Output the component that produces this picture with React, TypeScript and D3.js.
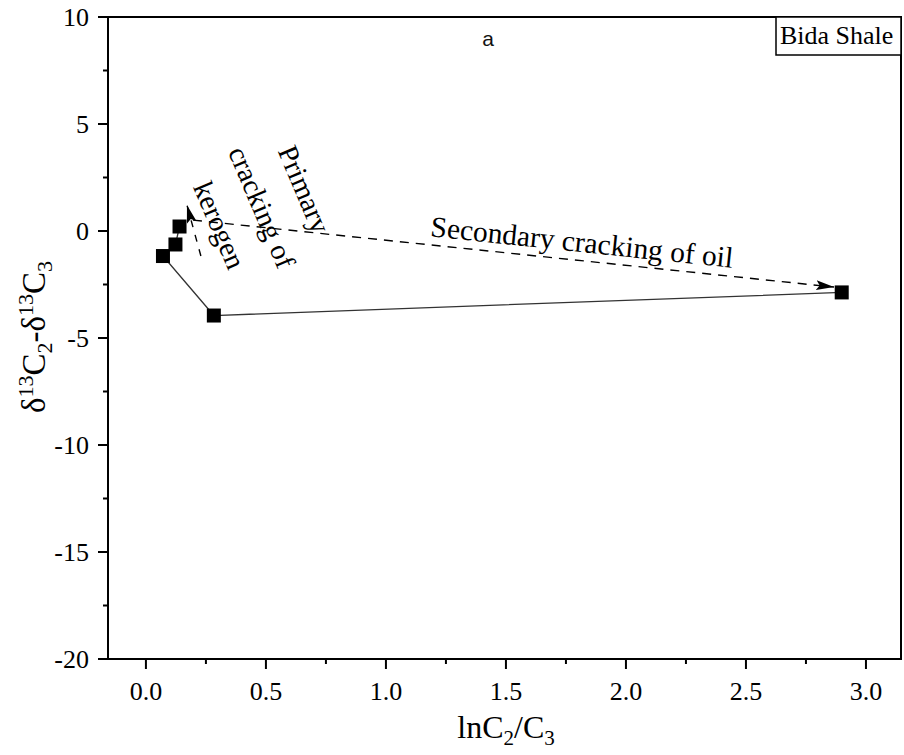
import React from 'react';
import * as d3 from 'd3';

// sample points (lnC2/C3, d13C2-d13C3), in drawing order
const lnC2C3 = [0.14, 0.123, 0.071, 0.283, 2.899];
const dC2C3 = [0.21, -0.63, -1.17, -3.95, -2.87];

// annotation arrows, data units [x0, y0, x1, y1]
const secondaryArrow = [0.196, 0.51, 2.867, -2.62];
const primaryArrow = [0.229, -1.17, 0.171, 1.21];

const xTicks = [0, 0.5, 1.0, 1.5, 2.0, 2.5, 3.0];
const yTicks = [10, 5, 0, -5, -10, -15, -20];

const W = 904, H = 755;
const margin = { top: 17, right: 3, bottom: 96, left: 108 };

const serif = '"Liberation Serif", "Times New Roman", serif';

const App = () => {
  const x = d3.scaleLinear().domain([-0.158, 3.146]).range([margin.left, W - margin.right]);
  const y = d3.scaleLinear().domain([-20, 10]).range([H - margin.bottom, margin.top]);
  const x0 = x.range()[0], x1 = x.range()[1];
  const y0 = y.range()[0], y1 = y.range()[1];

  const line = d3.line<number>()
    .x((d, i) => x(lnC2C3[i]))
    .y((d, i) => y(dC2C3[i]));

  const xMinor = d3.range(0.25, 3.1, 0.5);
  const yMinor = d3.range(-17.5, 10, 5);

  const sa = secondaryArrow, pa = primaryArrow;
  const sAngle = Math.atan2(y(sa[3]) - y(sa[1]), x(sa[2]) - x(sa[0])) * 180 / Math.PI;

  return (
    <svg width={W} height={H} style={{ display: 'block', position: 'absolute', left: 0, top: 0 }}>
      <defs>
        <marker id="head" viewBox="0 0 10 10" refX="10" refY="5" markerWidth="18" markerHeight="10"
          markerUnits="userSpaceOnUse" orient="auto" preserveAspectRatio="none">
          <path d="M0,0 L10,5 L0,10 L2,5 z" fill="#000" />
        </marker>
      </defs>

      {/* frame */}
      <rect x={x0} y={y1} width={x1 - x0} height={y0 - y1} fill="none" stroke="#000" strokeWidth={2} />

      {/* bottom axis */}
      {xTicks.map(t => (
        <g key={'x' + t}>
          <line x1={x(t)} x2={x(t)} y1={y0} y2={y0 + 10} stroke="#000" strokeWidth={2} />
          <text x={x(t)} y={700} textAnchor="middle" fontFamily={serif} fontSize={26}>{t.toFixed(1)}</text>
        </g>
      ))}
      {xMinor.map(t => (
        <line key={'xm' + t} x1={x(t)} x2={x(t)} y1={y0} y2={y0 + 5} stroke="#000" strokeWidth={2} />
      ))}

      {/* left axis */}
      {yTicks.map(t => (
        <g key={'y' + t}>
          <line x1={x0 - 10} x2={x0} y1={y(t)} y2={y(t)} stroke="#000" strokeWidth={2} />
          <text x={89} y={y(t)} dy="0.34em" textAnchor="end" fontFamily={serif} fontSize={26}>{t}</text>
        </g>
      ))}
      {yMinor.map(t => (
        <line key={'ym' + t} x1={x0 - 5} x2={x0} y1={y(t)} y2={y(t)} stroke="#000" strokeWidth={2} />
      ))}

      {/* axis titles */}
      <text x={506} y={738} textAnchor="middle" fontFamily={serif} fontSize={32}>
        lnC<tspan fontSize={21} dy={7}>2</tspan><tspan dy={-7}>/C</tspan><tspan fontSize={21} dy={7}>3</tspan>
      </text>
      <text transform="translate(45,337) rotate(-90)" textAnchor="middle" fontFamily={serif} fontSize={33}>
        δ<tspan fontSize={22} dy={-12}>13</tspan><tspan dy={12}>C</tspan><tspan fontSize={22} dy={7}>2</tspan>
        <tspan dy={-7}>-δ</tspan><tspan fontSize={22} dy={-12}>13</tspan><tspan dy={12}>C</tspan>
        <tspan fontSize={22} dy={7}>3</tspan>
      </text>

      {/* panel label and legend */}
      <text x={488} y={46} textAnchor="middle" fontFamily='"Liberation Sans", Arial, sans-serif' fontSize={21} fill="#111">a</text>
      <rect x={776} y={y1} width={x1 - 776} height={38} fill="#fff" stroke="#000" strokeWidth={1.5} />
      <text x={780} y={44} fontFamily={serif} fontSize={26}>Bida Shale</text>

      {/* arrows */}
      <line x1={x(sa[0])} y1={y(sa[1])} x2={x(sa[2])} y2={y(sa[3])} stroke="#000" strokeWidth={1.4}
        strokeDasharray="9,7" markerEnd="url(#head)" />
      <line x1={x(pa[0])} y1={y(pa[1])} x2={x(pa[2])} y2={y(pa[3])} stroke="#000" strokeWidth={1.4}
        strokeDasharray="7,8" markerEnd="url(#head)" />

      {/* data */}
      <path d={line(lnC2C3) || ''} fill="none" stroke="#333" strokeWidth={1.3} />
      {lnC2C3.map((v, i) => (
        <rect key={i} x={x(v) - 7} y={y(dC2C3[i]) - 7} width={14} height={14} fill="#000" />
      ))}

      {/* annotations */}
      <text transform={`translate(581,252) rotate(${sAngle})`} textAnchor="middle" fontFamily={serif} fontSize={29.5}>
        Secondary cracking of oil
      </text>
      <g transform="translate(253,211) rotate(67)" fontFamily={serif} fontSize={28.5} textAnchor="middle">
        <text y={-46}>Primary</text>
        <text y={0}>cracking of</text>
        <text y={46}>kerogen</text>
      </g>
    </svg>
  );
};

export default App;
